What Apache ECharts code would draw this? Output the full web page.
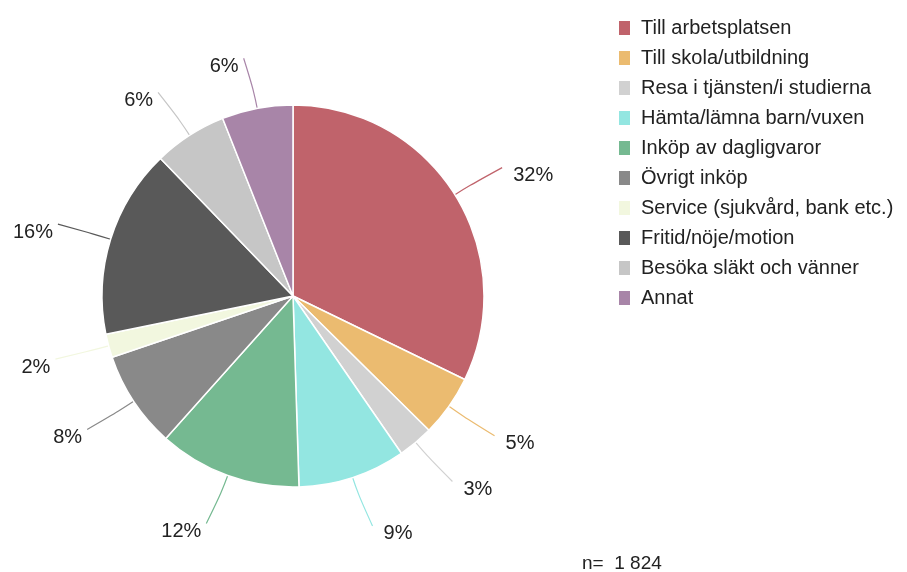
<!DOCTYPE html>
<html>
<head>
<meta charset="utf-8">
<script src="https://cdn.jsdelivr.net/npm/echarts@6/dist/echarts.min.js"></script>
<style>
  html, body { margin: 0; padding: 0; background: #fff; }
  #chart { width: 907px; height: 572px; }
</style>
</head>
<body>
<div id="chart"></div>
<script>
// ärendetyper (legend order = slice order)
const categories = [
  "Till arbetsplatsen",
  "Till skola/utbildning",
  "Resa i tjänsten/i studierna",
  "Hämta/lämna barn/vuxen",
  "Inköp av dagligvaror",
  "Övrigt inköp",
  "Service (sjukvård, bank etc.)",
  "Fritid/nöje/motion",
  "Besöka släkt och vänner",
  "Annat"
];
// andel i procent
const shares = [32.2, 5.2, 3.0, 9.1, 12.1, 8.2, 2.0, 16.0, 6.2, 6.0];
const colors = ["#c0636b", "#ebbb70", "#d1d1d1", "#93e6e1", "#75b991",
                "#898989", "#f2f7df", "#595959", "#c6c6c6", "#a885a8"];
const nText = "n=  1 824";

const CX = 293, CY = 296, R = 191;
const FONT = "Liberation Sans, Arial, sans-serif";

// mittvinkel för varje sektor (andel av helt varv, medurs från kl 12)
const total = shares.reduce((a, b) => a + b, 0);
const midFrac = [];
let acc = 0;
shares.forEach(v => { midFrac.push((acc + v / 2) / total); acc += v; });

const chart = echarts.init(document.getElementById("chart"));

const option = {
  animation: false,
  color: colors,
  textStyle: { fontFamily: FONT },
  legend: {
    orient: "vertical",
    left: 612,
    top: 13,
    itemWidth: 13,
    itemHeight: 16,
    itemGap: 10,
    icon: "rect",
    textStyle: { fontSize: 20, color: "#222", padding: [0, 0, 0, 5] },
    data: categories
  },
  graphic: [
    {
      type: "text",
      left: 582,
      top: 554,
      style: { text: nText, fontSize: 19, fill: "#222", fontFamily: FONT }
    }
  ],
  series: [
    {
      type: "pie",
      center: [CX, CY],
      radius: R,
      startAngle: 90,
      clockwise: true,
      avoidLabelOverlap: false,
      itemStyle: { borderColor: "#fff", borderWidth: 1.5 },
      label: {
        show: true,
        fontSize: 20,
        color: "#222",
        formatter: p => Math.round(p.value) + "%"
      },
      labelLine: {
        show: true,
        smooth: 0.5,
        lineStyle: { width: 1.2 }
      },
      // etiketter radiellt utanför sektorns mitt, som i originalet
      labelLayout: function (p) {
        const a = midFrac[p.dataIndex] * 2 * Math.PI;
        const sx = Math.sin(a), sy = -Math.cos(a);
        const right = sx >= 0;
        const p0 = [CX + R * sx, CY + R * sy];
        const p1 = [CX + (R + 18) * sx, CY + (R + 18) * sy];
        const end = [CX + (R + 51) * sx, CY + (R + 51) * sy];
        const p2 = [end[0] + (right ? 4 : -4), end[1]];
        return {
          x: end[0] + (right ? 15 : -9),
          y: end[1] + 8,
          align: right ? "left" : "right",
          verticalAlign: "middle",
          labelLinePoints: [p0, p1, p2]
        };
      },
      emphasis: { disabled: true },
      data: categories.map((c, i) => ({ name: c, value: shares[i] }))
    }
  ]
};

chart.setOption(option);
</script>
</body>
</html>
